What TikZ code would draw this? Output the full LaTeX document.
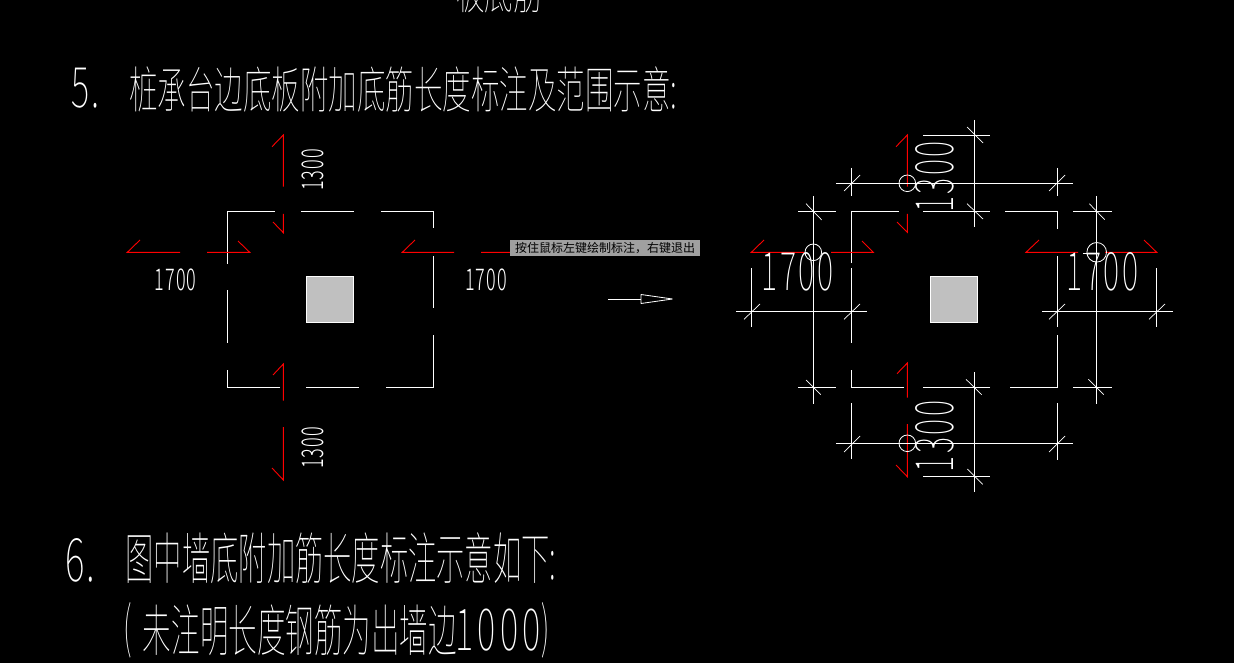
\documentclass[tikz,border=0pt]{standalone}
\usepackage{fontspec}
\setmainfont{Noto Sans CJK SC Thin}
\newfontfamily\cjkui{Noto Sans CJK SC}
\newfontfamily\cjklight{Noto Sans CJK SC Light}
\newcommand{\fs}[1]{\fontsize{#1}{#1}\selectfont}
\newcommand{\spc}[1]{\addfontfeature{LetterSpace=#1}}
\definecolor{cadred}{HTML}{FF0000}
\definecolor{cadgrey}{HTML}{C0C0C0}
\definecolor{tipgrey}{HTML}{A0A0A0}
\tikzset{
  wl/.style={draw=white,line width=0.9pt},
  rl/.style={draw=cadred,line width=0.9pt},
  tk/.style={draw=white,line width=0.7pt},
  txt/.style={text=white,inner sep=0pt,outer sep=0pt},
  columnbox/.style={draw=white,fill=cadgrey,line width=0.9pt},
}
\begin{document}
\begin{tikzpicture}[x=1pt,y=-1pt]
\useasboundingbox (0,0) rectangle (1234,663);
\clip (0,0) rectangle (1234,663);
\fill[black] (0,0) rectangle (1234,663);
% headings
\node[txt,xscale=.62] (t0) at (499,-8) {\fs{46}板底筋};
\node[txt,xscale=.62] (n5) at (85.5,88) {\fs{56}\spc{6}5.};
\node[txt,xscale=.57] (t5) at (403.5,90) {\fs{50}桩承台边底板附加底筋长度标注及范围示意:};
\node[txt,xscale=.62] (n6) at (80,560) {\fs{60}\spc{4}6.};
\node[txt,xscale=.505] (t6) at (341,558) {\fs{56}图中墙底附加筋长度标注示意如下:};
\node[txt,xscale=.5] (t7a) at (128,630) {\fs{56}(};
\node[txt,xscale=.51] (t7b) at (300,630) {\fs{56}未注明长度钢筋为出墙边};
\node[txt,xscale=.6] (t7c) at (498,630) {\fs{58}\spc{12}1000};
\node[txt,xscale=.5] (t7d) at (546,630) {\fs{56})};
% left plan
\draw[wl] (227.3,263.7)--(227.3,211)--(275,211) (301,211)--(354,211) (381,211)--(433.3,211)--(433.3,228);
\draw[wl] (433.3,256)--(433.3,307.7) (433.3,335)--(433.3,387)--(386,387) (359,387)--(306,387) (280,387)--(227.3,387)--(227.3,370) (227.3,342.7)--(227.3,290);
\node[columnbox,minimum width=47.5pt,minimum height=46.3pt,inner sep=0pt] (colA) at (330,299.2) {};
\draw[rl] (272,146.7)--(283.3,135)--(283.3,186.7) (283.3,214)--(283.3,232.7)--(273,222);
\draw[rl] (140,240)--(127.3,252.3)--(180,252.3) (207,252.3)--(249.7,252.3)--(238,241);
\draw[rl] (415,240)--(402.3,252.3)--(454,252.3) (481,252.3)--(510,252.3);
\draw[rl] (273,375)--(283.3,364)--(283.3,400.7) (283.3,427)--(283.3,480)--(272,468);
\node[txt,xscale=.6] (la) at (175.5,280) {\cjklight\fs{30}\spc{6}1700};
\node[txt,xscale=.6] (lb) at (486,280) {\cjklight\fs{30}\spc{6}1700};
\node[txt,rotate=90,xscale=.6] (lc) at (313,170) {\cjklight\fs{30}\spc{6}1300};
\node[txt,rotate=90,xscale=.6] (ld) at (313,448) {\cjklight\fs{30}\spc{6}1300};
% tooltip
\node[fill=tipgrey,text=black,minimum width=190pt,minimum height=16pt,inner sep=0pt] (tip) at (605,248) {\cjkui\fs{12}按住鼠标左键绘制标注^^^^ff0c右键退出};
% arrow
\draw[wl,line width=0.8pt] (608,299)--(641,299);
\draw[wl,line width=0.8pt,line join=bevel] (641,294.5)--(655,296.5)--(672.5,299)--(655,301.5)--(641,303.5)--cycle;
% right plan
\draw[wl] (851.3,263)--(851.3,211.3)--(899,211.3) (923,211.3)--(990,211.3) (1005,211.3)--(1057.3,211.3)--(1057.3,228.7);
\draw[wl] (1057.3,256)--(1057.3,326.7) (1057.3,335)--(1057.3,387.3)--(1010,387.3) (990,387.3)--(923,387.3) (904,387.3)--(851.3,387.3)--(851.3,370) (851.3,342.7)--(851.3,268.3);
\node[columnbox,minimum width=47.5pt,minimum height=46.3pt,inner sep=0pt] (colB) at (954,299.2) {};
\draw[rl] (896,146.7)--(907.3,135)--(907.3,186.7) (907.3,214)--(907.3,232.3)--(897,222);
\draw[rl] (764,240)--(751.3,252.3)--(804,252.3) (831,252.3)--(873.3,252.3)--(862,241);
\draw[rl] (1039,240)--(1026,252.3)--(1078,252.3) (1105,252.3)--(1156.7,252.3)--(1144,240);
\draw[rl] (897,373.7)--(907.3,363)--(907.3,397.7) (907.3,424)--(907.3,476.7)--(896,465);
% top dimensions
\draw[wl] (836,183.3)--(1073,183.3) (851.3,168)--(851.3,195.7) (1057.3,168)--(1057.3,195.7);
\draw[tk] (844,191)--(860,175) (1049,191)--(1065,175);
\draw[wl] (974.3,120)--(974.3,226.7) (923,135.3)--(990,135.3);
\draw[tk] (967,127)--(983,143) (967,203.7)--(983,219);
% bottom dimensions
\draw[wl] (836,443.3)--(1073,443.3) (851.3,403)--(851.3,458.7) (1057.3,403)--(1057.3,460);
\draw[tk] (844,452)--(860,436) (1049,452)--(1065,436);
\draw[wl] (974.3,372)--(974.3,491.7) (923,476.3)--(990,476.3);
\draw[tk] (966,379.3)--(981.7,394.7) (967.3,469)--(982.7,484.3);
% left dimensions
\draw[wl] (813.3,196)--(813.3,403.7) (798,211.3)--(836,211.3) (798,387.3)--(836,387.3);
\draw[tk] (806,203.7)--(821.7,220) (806,380)--(820.7,394.7);
\draw[wl] (736,311)--(866.7,311) (751.3,268.3)--(751.3,326.7);
\draw[tk] (744,319.3)--(760,304) (844,319.3)--(860,304);
% right dimensions
\draw[wl] (1096.3,196)--(1096.3,403.7) (1073,211.3)--(1112,211.3) (1073,387.3)--(1112,387.3);
\draw[tk] (1089.3,203.7)--(1104.7,219.7) (1088.3,379.3)--(1103.7,394.7);
\draw[wl] (1042,311)--(1173,311) (1156.3,268.3)--(1156.3,326.7);
\draw[tk] (1049,319.3)--(1065,304) (1149,319.3)--(1165,304);
\draw[tk] (1083,253)--(1096.7,253);
% grips
\draw[wl,line width=0.8pt] (907.3,183.3) circle[radius=8.3];
\draw[wl,line width=0.8pt] (907.3,443.3) circle[radius=8.3];
\draw[wl,line width=0.8pt] (813.3,252.3) circle[radius=8.3];
\draw[wl,line width=0.8pt] (1096.7,252.3) circle[radius=9.8];
% big dimension texts
\node[txt,xscale=.58] (ra) at (797.5,271.5) {\fs{53}\spc{8}1700};
\node[txt,xscale=.58] (rb) at (1102.5,271.5) {\fs{53}\spc{8}1700};
\node[txt,rotate=90,xscale=.58] (rc) at (935,177) {\fs{53}\spc{8}1300};
\node[txt,rotate=90,xscale=.58] (rd) at (935,436.5) {\fs{53}\spc{8}1300};
\end{tikzpicture}
\end{document}
